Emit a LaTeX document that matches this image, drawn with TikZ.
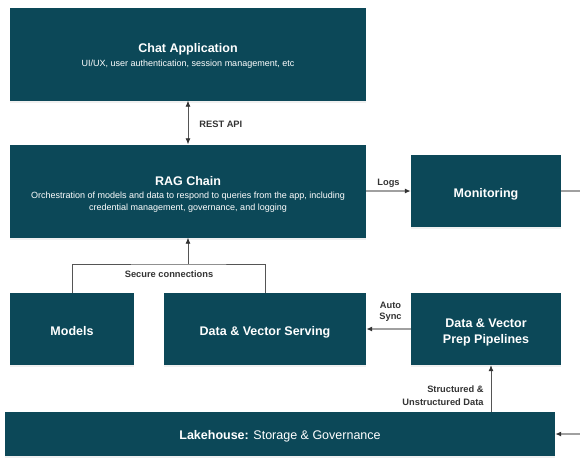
\documentclass[tikz,border=0pt]{standalone}
\usepackage{fontspec}
\setmainfont{Liberation Sans}
\usetikzlibrary{arrows.meta,shadows}

\definecolor{boxteal}{RGB}{12,72,88}
\definecolor{linegray}{RGB}{85,85,85}
\definecolor{wiregray}{RGB}{160,160,160}
\definecolor{labelgray}{RGB}{51,51,51}

\tikzset{>={Latex[length=6pt,width=5pt,color=labelgray]}}
\tikzstyle{block}=[fill=boxteal, text=white, inner sep=0pt, align=center, text height=13pt, text depth=0pt, font=\fontsize{12.5}{14}\selectfont\bfseries, drop shadow={opacity=0.12, shadow xshift=0pt, shadow yshift=-2pt}]
\tikzstyle{tag}=[text=labelgray, inner sep=1pt, align=center, font=\fontsize{9.3}{13}\selectfont\bfseries]
\tikzstyle{link}=[draw, linegray, line width=0.8pt]
\tikzstyle{wire}=[draw, wiregray, line width=1.5pt]
\tikzstyle{flow}=[link, ->]
\tikzstyle{wireflow}=[wire, ->]
\newcommand{\subline}[1]{{\fontsize{9}{13}\selectfont\mdseries #1}}

\begin{document}
\begin{tikzpicture}[x=1pt, y=-1pt]
		\useasboundingbox (0,0) rectangle (580,467);
		\node[block, minimum width=356pt, minimum height=93pt, text height=25pt] (chat) at (188,54)
			{Chat Application\\\subline{UI/UX, user authentication, session management, etc}};
		\node[block, minimum width=356pt, minimum height=93pt, text height=39pt] (rag) at (188,191)
			{RAG Chain\\[-1pt]\subline{Orchestration of models and data to respond to queries from the app, including}\\[-2pt]\subline{credential management, governance, and logging}};
		\foreach \pos/\name/\w/\th/\txt in {{(486,191)/mon/150/13/Monitoring}, {(72,329)/models/124/13/Models}, {(265,329)/serving/202/13/Data \& Vector Serving}, {(486,329)/prep/150/29/Data \& Vector\\[2pt]Prep Pipelines}}
			\node[block, minimum width=\w pt, minimum height=72pt, text height=\th pt] (\name) at \pos {\txt};
		\node[block, minimum width=550pt, minimum height=44pt, text height=10pt] (lake) at (280,434)
			{Lakehouse: \mdseries Storage \& Governance};
		\coordinate (sec) at (188,264);
		\coordinate (monout) at (580,191);
		\coordinate (lakein) at (580,434);
		\coordinate (prepin) at ([xshift=5pt]prep.south);
		\path[link, <->] (chat.south) -- node[tag, right=10pt, pos=0.55] (restapi) {REST API} (rag.north);
		\path[wireflow] (rag.east) -- node[tag, above=2pt] (logs) {Logs} (mon.west);
		\path[wire] (mon.east) -- (monout);
		\path[link] (models.north) |- (sec) -| (serving.north);
		\path[flow] (sec) -- (rag.south);
		\node[tag] (secure) at (169,274) {Secure connections};
		\path[wireflow] (prep.west) -- node[tag, above=6pt, xshift=2pt, font=\fontsize{9.3}{11}\selectfont\bfseries] (autosync) {Auto\\Sync} (serving.east);
		\path[flow] (lake.north -| prepin) -- node[tag, left=6pt, pos=0.35, align=right] (structured) {Structured \&\\Unstructured Data} (prepin);
		\path[wireflow] (lakein) -- (lake.east);
	\end{tikzpicture}
\end{document}
